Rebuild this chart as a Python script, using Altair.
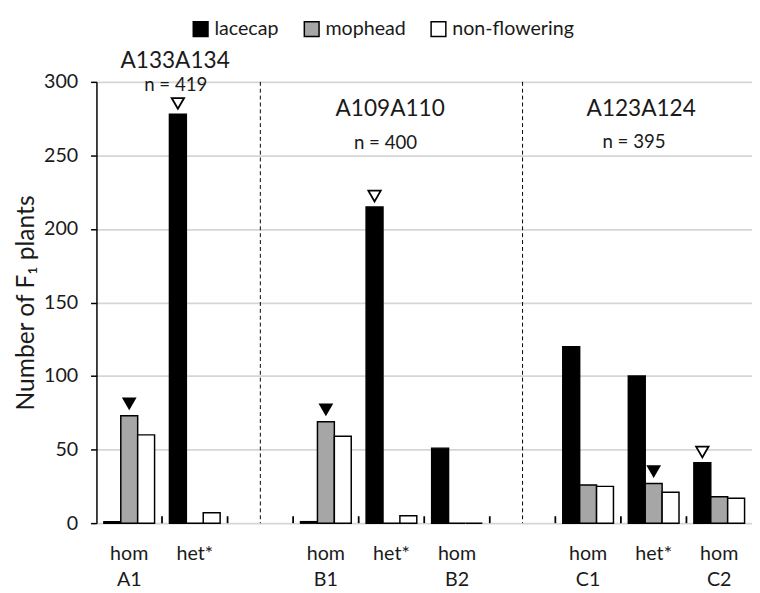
import altair as alt
import pandas as pd

categories = ["A1 hom", "A1 het*", "gap1", "B1 hom", "B1 het*", "B2 hom", "gap2", "C1 hom", "C1 het*", "C2 hom"]
label_line1 = ["hom", "het*", "", "hom", "het*", "hom", "", "hom", "het*", "hom"]
label_line2 = ["A1", "", "", "B1", "", "B2", "", "C1", "", "C2"]
series = ["lacecap", "mophead", "non-flowering"]
series_colors = ["#000000", "#a6a6a6", "#ffffff"]
lacecap = [1, 278, None, 1, 215, 51, None, 120, 100, 41]
mophead = [73, 0, None, 69, 0, 0, None, 26, 27, 18]
non_flowering = [60, 7, None, 59, 5, 0, None, 25, 21, 17]
y_ticks = [0, 50, 100, 150, 200, 250, 300]

gap_categories = ["gap1", "gap2"]
marker_cats = ["A1 hom", "A1 het*", "B1 hom", "B1 het*", "C1 het*", "C2 hom"]
marker_series = ["mophead", "lacecap", "mophead", "lacecap", "mophead", "lacecap"]
marker_filled = [True, False, True, False, True, False]

group_cats = ["A1 het*", "B1 het*", "C1 het*"]
group_titles = ["A133A134", "A109A110", "A123A124"]
group_ns = ["n = 419", "n = 400", "n = 395"]

FONT = "Lato"
TXT = "#1a1a1a"
W, H = 667, 449

rows = []
for i, c in enumerate(categories):
    for s, vals in zip(series, [lacecap, mophead, non_flowering]):
        if vals[i] is not None:
            rows.append({"cat": c, "series": s, "value": vals[i]})
bars_df = pd.DataFrame(rows)

lookup = {(r["cat"], r["series"]): r["value"] for r in rows}
mk_df = pd.DataFrame({
    "cat": marker_cats,
    "series": marker_series,
    "filled": marker_filled,
    "value": [lookup[(c, s)] for c, s in zip(marker_cats, marker_series)],
})
lab_df = pd.DataFrame({"cat": categories, "l1": label_line1, "l2": label_line2})

xscale = alt.Scale(domain=categories, paddingInner=0, paddingOuter=0)
xoff_scale = alt.Scale(domain=series, paddingInner=0, paddingOuter=0.44)
yscale = alt.Scale(domain=[0, 300], nice=False)

bars = alt.Chart(bars_df).mark_bar(stroke="black", strokeWidth=1.5).encode(
    x=alt.X("cat:N", scale=xscale, sort=categories,
            axis=alt.Axis(title=None, labels=False, ticks=False,
                          domainColor="black", domainWidth=1.5)),
    xOffset=alt.XOffset("series:N", scale=xoff_scale, sort=series),
    y=alt.Y("value:Q", scale=yscale,
            axis=alt.Axis(title="Number of F₁ plants", values=y_ticks,
                          titleFont=FONT, titleFontSize=25, titleFontWeight="normal",
                          titleColor=TXT, titlePadding=5,
                          labelFont=FONT, labelFontSize=20, labelColor=TXT, labelPadding=13,
                          gridColor="#d6d6d6", gridWidth=1.8, domainColor="black",
                          domainWidth=1.5, tickColor="black", tickWidth=1.5, tickSize=6)),
    fill=alt.Fill("series:N", sort=series,
                  scale=alt.Scale(domain=series, range=series_colors),
                  legend=alt.Legend(title=None, orient="none", direction="horizontal",
                                    legendX=96, legendY=-64, symbolType="square",
                                    symbolSize=225, symbolStrokeColor="black",
                                    symbolStrokeWidth=1.5, labelFont=FONT, labelFontSize=20,
                                    labelColor=TXT, columnPadding=22, labelOffset=4)),
)

ticks = alt.Chart(pd.DataFrame({"cat": categories[1:]})).mark_rule(
    color="black", strokeWidth=1.8
).encode(
    x=alt.X("cat:N", scale=xscale, bandPosition=0, axis=None),
    y=alt.value(H),
    y2=alt.value(H - 7),
)

dashes = alt.Chart(pd.DataFrame({"cat": gap_categories})).mark_rule(
    color="black", strokeWidth=1, strokeDash=[4, 3]
).encode(
    x=alt.X("cat:N", scale=xscale, bandPosition=0.5, axis=None),
    y=alt.value(0),
    y2=alt.value(H),
)

markers_filled = alt.Chart(mk_df[mk_df["filled"]]).mark_point(
    shape="triangle-down", filled=True, color="black", opacity=1, size=225, yOffset=-12
).encode(
    x=alt.X("cat:N", scale=xscale, axis=None),
    xOffset=alt.XOffset("series:N", scale=xoff_scale, sort=series),
    y=alt.Y("value:Q", scale=yscale),
)
markers_open = alt.Chart(mk_df[~mk_df["filled"]]).mark_point(
    shape="triangle-down", filled=True, fill="white", stroke="black", strokeWidth=1.8,
    opacity=1, size=160, yOffset=-11
).encode(
    x=alt.X("cat:N", scale=xscale, axis=None),
    xOffset=alt.XOffset("series:N", scale=xoff_scale, sort=series),
    y=alt.Y("value:Q", scale=yscale),
)

xlab1 = alt.Chart(lab_df).mark_text(font=FONT, fontSize=20, color=TXT, baseline="alphabetic").encode(
    x=alt.X("cat:N", scale=xscale, axis=None), y=alt.value(H + 38), text="l1:N")
xlab2 = alt.Chart(lab_df).mark_text(font=FONT, fontSize=20, color=TXT, baseline="alphabetic").encode(
    x=alt.X("cat:N", scale=xscale, axis=None), y=alt.value(H + 64), text="l2:N")


def group_label(i, tband, nband, ty, ny):
    d = pd.DataFrame({"cat": [group_cats[i]], "title": [group_titles[i]], "n": [group_ns[i]]})
    t1 = alt.Chart(d).mark_text(font=FONT, fontSize=23, color=TXT, baseline="middle").encode(
        x=alt.X("cat:N", scale=xscale, bandPosition=tband, axis=None),
        y=alt.value(ty), text="title:N")
    t2 = alt.Chart(d).mark_text(font=FONT, fontSize=19, color=TXT, baseline="middle").encode(
        x=alt.X("cat:N", scale=xscale, bandPosition=nband, axis=None),
        y=alt.value(ny), text="n:N")
    return t1 + t2


g1 = group_label(0, 0.2, 0.21, -21, 3)
g2 = group_label(1, 0.48, 0.41, 28, 62)
g3 = group_label(2, 0.31, 0.2, 28, 61)

chart = alt.layer(
    bars, ticks, dashes, markers_filled, markers_open, xlab1, xlab2, g1, g2, g3
).properties(
    width=W, height=H,
    autosize=alt.AutoSizeParams(type="none"),
    padding={"left": 90, "top": 70, "right": 0, "bottom": 70},
).configure_view(stroke=None)

chart.save("out.html", embed_options={"renderer": "svg", "actions": False})
